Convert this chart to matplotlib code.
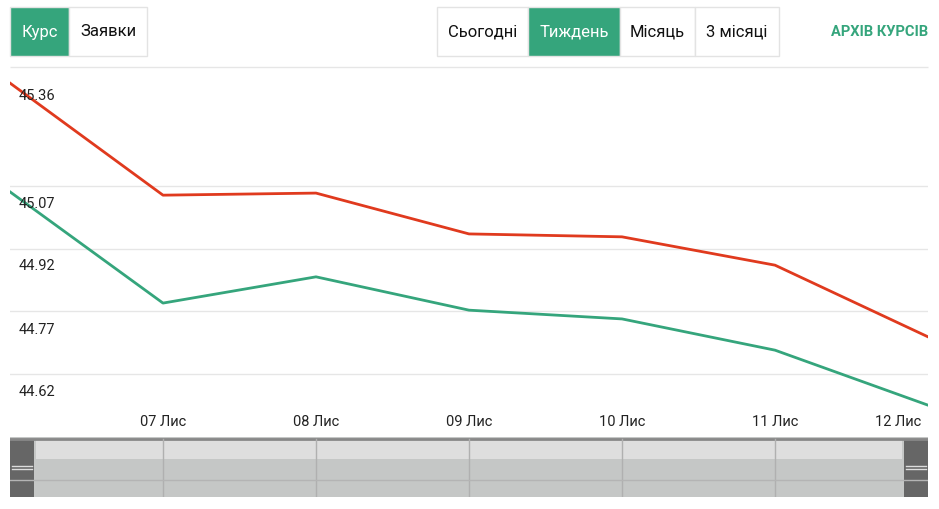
import matplotlib
matplotlib.use("Agg")
import matplotlib.pyplot as plt
from matplotlib.patches import Rectangle

plt.rcParams['font.family'] = ['Roboto', 'DejaVu Sans']

dates = ["06 Лис", "07 Лис", "08 Лис", "09 Лис", "10 Лис", "11 Лис", "12 Лис"]
sell = [45.317, 45.048, 45.053, 44.955, 44.948, 44.880, 44.708]
buy = [45.056, 44.789, 44.852, 44.772, 44.751, 44.676, 44.544]
yticks = [45.07, 44.92, 44.77, 44.62]
ylabels = ["45.36", "45.07", "44.92", "44.77", "44.62"]
tabs_left = ["Курс", "Заявки"]
tabs_right = ["Сьогодні", "Тиждень", "Місяць", "3 місяці"]

W, H = 939, 510
fig = plt.figure(figsize=(W/100, H/100), dpi=100)
GREEN = "#35a57c"

def fx(x): return x / W
def fy(y): return 1 - y / H

ax = fig.add_axes([fx(10), fy(437), fx(918), (437-68)/H])
x = list(range(len(dates)))
ax.plot(x, sell, color="#e03a1e", lw=2)
ax.plot(x, buy, color=GREEN, lw=2)
ax.set_xlim(0, 6)
k = 0.15 / 62.5
ax.set_ylim(45.07 - (437-187)*k, 45.07 + (187-68)*k)
for t in yticks:
    ax.axhline(t, color="#e6e6e6", lw=1, zorder=0)
for s in ax.spines.values():
    s.set_visible(False)
ax.set_xticks([]); ax.set_yticks([])
for lab, py in zip(ylabels, [96, 204, 266, 330, 392]):
    fig.text(fx(19), fy(py), lab, fontsize=10.5, va="center", ha="left", color="#222")
for i, d in enumerate(dates[1:], start=1):
    px = 10 + i * 153
    fig.text(fx(min(px, 898)), fy(422), d, fontsize=10.5, va="center", ha="center", color="#222")
fig.add_artist(Rectangle((fx(10), fy(68)), fx(918), 0, transform=fig.transFigure, fill=False, ec="#e6e6e6", lw=1))

nav = fig.add_axes([fx(10), fy(498), fx(918), 60/H])
nav.set_xlim(0, 918); nav.set_ylim(0, 60)
nav.axis("off")
nav.add_patch(Rectangle((0, 0), 918, 60, fc="#c5c7c6", ec="none"))
nav.add_patch(Rectangle((26, 38), 866, 20, fc="#dedede", ec="none"))
nav.plot([0, 918], [58.5, 58.5], color="#888", lw=2)
for gx in [153, 306, 459, 612, 765]:
    nav.plot([gx, gx], [0, 58], color="#b0b0b0", lw=1)
nav.plot([0, 918], [17, 17], color="#b4b4b4", lw=1)
for hx in [0, 894]:
    nav.add_patch(Rectangle((hx, 0), 24, 58, fc="#666", ec="none"))
    nav.plot([hx+2, hx+22], [31, 31], color="#ddd", lw=1)
    nav.plot([hx+2, hx+22], [28, 28], color="#ddd", lw=1)

def button(x0, x1, text, active):
    fig.add_artist(Rectangle((fx(x0), fy(57)), fx(x1-x0), (57-8)/H, transform=fig.transFigure,
                             fc=GREEN if active else "white", ec="#e3e3e3", lw=1))
    fig.text(fx((x0+x1)/2), fy(32), text, fontsize=12, ha="center", va="center",
             color="white" if active else "#111")
button(10, 69, tabs_left[0], True)
button(69, 147, tabs_left[1], False)
bx = [437, 528, 620, 695, 779]
for i, t in enumerate(tabs_right):
    button(bx[i], bx[i+1], t, i == 1)
fig.text(fx(928), fy(32), "АРХІВ КУРСІВ", fontsize=10.5, ha="right", va="center",
         color=GREEN, fontweight="bold")

fig.savefig("out.png", dpi=100)
